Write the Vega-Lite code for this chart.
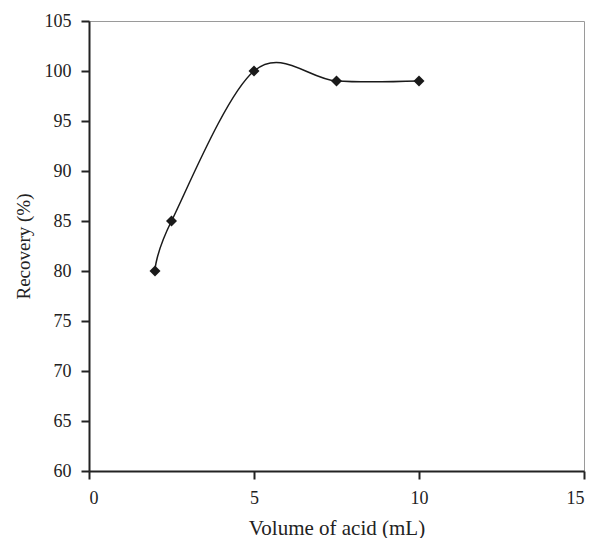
{
  "$schema": "https://vega.github.io/schema/vega-lite/v6.json",
  "width": 495,
  "height": 450,
  "autosize": {"type": "none"},
  "padding": {"left": 89, "top": 21, "right": 6, "bottom": 67},
  "background": "white",
  "config": {
    "view": {"stroke": "#9a9a9a", "strokeWidth": 1},
    "font": "Liberation Serif",
    "axis": {
      "labelFont": "Liberation Serif",
      "titleFont": "Liberation Serif",
      "labelFontSize": 18,
      "labelColor": "#222",
      "titleColor": "#222",
      "titleFontWeight": "normal",
      "domainColor": "#222",
      "domainWidth": 2,
      "tickColor": "#222",
      "tickWidth": 2,
      "tickSize": 8,
      "grid": false
    }
  },
  "data": {
    "values": [
      {"volume": 2, "recovery": 80},
      {"volume": 2.5, "recovery": 85},
      {"volume": 5, "recovery": 100},
      {"volume": 7.5, "recovery": 99},
      {"volume": 10, "recovery": 99}
    ]
  },
  "encoding": {
    "x": {
      "field": "volume",
      "type": "quantitative",
      "scale": {"domain": [0, 15], "nice": false, "zero": false},
      "axis": {"values": [0, 5, 10, 15], "title": "Volume of acid (mL)", "titleFontSize": 21, "labelPadding": 10, "titleBaseline": "alphabetic", "titleY": 63}
    },
    "y": {
      "field": "recovery",
      "type": "quantitative",
      "scale": {"domain": [60, 105], "nice": false, "zero": false},
      "axis": {"values": [60, 65, 70, 75, 80, 85, 90, 95, 100, 105], "title": "Recovery (%)", "titleFontSize": 19, "labelPadding": 10, "titleBaseline": "alphabetic", "titleX": -60}
    }
  },
  "layer": [
    {
      "mark": {"type": "line", "interpolate": "cardinal", "color": "#1a1a1a", "strokeWidth": 1.5}
    },
    {
      "mark": {"type": "point", "shape": "diamond", "filled": true, "color": "#1a1a1a", "opacity": 1, "size": 121}
    }
  ]
}
